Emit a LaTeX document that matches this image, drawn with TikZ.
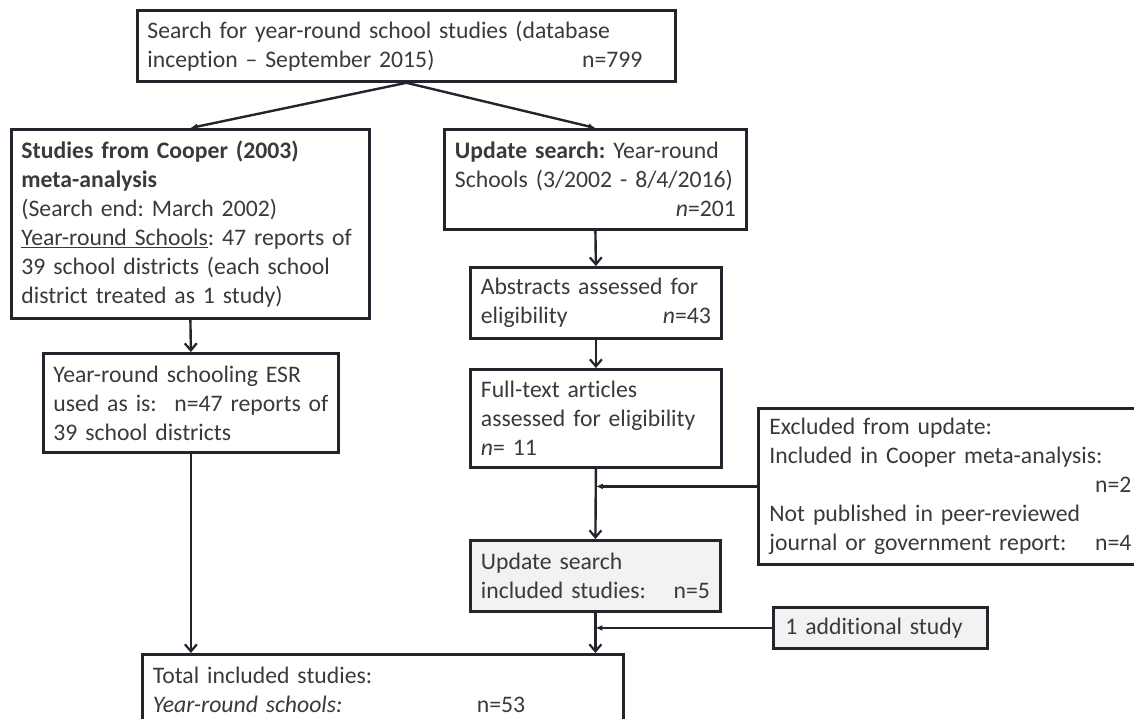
\documentclass[tikz,border=0pt]{standalone}
\usepackage{fontspec}
\setmainfont{Carlito}[Ligatures=CommonOff]
\usetikzlibrary{arrows.meta}
\definecolor{boxc}{RGB}{36,36,44}
\definecolor{txtc}{RGB}{58,58,62}
\definecolor{grayfill}{RGB}{242,242,242}
\tikzset{
  box/.style={draw=boxc, line width=2.8pt, anchor=north west, inner xsep=10pt, inner ysep=0pt,
    align=left, text=txtc, font=\fontsize{23.7}{29}\selectfont\frenchspacing},
  graybox/.style={box, fill=grayfill},
  arr/.style={draw=boxc, line width=2.4pt, -{Straight Barb[length=7pt,width=12pt,line width=2.2pt]}},
  sarr/.style={draw=boxc, line width=2.4pt, -{Latex[length=7pt,width=6pt]}}
}
\begin{document}
\begin{tikzpicture}[x=1pt,y=-1pt]
\useasboundingbox (0,0) rectangle (1134,719);
\fill[white] (0,0) rectangle (1134,719);

\node[box, text width=518pt, minimum height=71pt] (top) at (136,9)
  {Search for year-round school studies (database\\
   inception – September 2015)\hfill n=799\hspace*{23pt}};

\node[box, text width=338pt, minimum height=189pt] (cooper) at (10,128)
  {\textbf{Studies from Cooper (2003)}\\
   \textbf{meta-analysis}\\
   (Search end: March 2002)\\
   \underline{Year-round Schools}: 47 reports of\\
   39 school districts (each school\\
   district treated as 1 study)};

\node[box, text width=281pt, inner xsep=10.5pt, minimum height=100pt] (upd) at (443,128)
  {\textbf{Update search:} Year-round\\
   Schools (3/2002 - 8/4/2016)\\
   \hspace*{\fill}\textit{n}=201};

\node[box, text width=230pt, inner xsep=10.5pt, minimum height=71pt] (abs) at (469,266)
  {Abstracts assessed for\\
   eligibility\hfill\textit{n}=43};

\node[box, text width=230pt, inner xsep=10.5pt, minimum height=98pt] (full) at (469,368)
  {Full-text articles\\
   assessed for eligibility\\
   \textit{n}= 11};

\node[box, text width=275pt, minimum height=99pt] (esr) at (42,352)
  {Year-round schooling ESR\\
   used as is:\hfill n=47 reports of\\
   39 school districts};

\node[box, text width=362pt, inner xsep=11pt, minimum height=156pt] (excl) at (757,407)
  {Excluded from update:\\
   Included in Cooper meta-analysis:\\
   \hspace*{\fill}n=2\\
   Not published in peer-reviewed\\
   journal or government report:\hfill n=4};

\node[graybox, text width=229pt, inner xsep=10.5pt, minimum height=71pt] (inc) at (469,539)
  {Update search\\
   included studies:\hfill n=5};

\node[graybox, text width=190pt, inner xsep=12pt, minimum height=41pt] (add) at (772,606)
  {1 additional study};

\node[box, text width=460pt, inner xsep=10.5pt, minimum height=71pt] (total) at (141,653)
  {Total included studies:\\
   \makebox[324pt][l]{\textit{Year-round schools:}}n=53};

% connectors
\draw[sarr] (top.south) -- (cooper.north);
\draw[sarr] (top.south) -- (upd.north);
\draw[arr] (cooper.south) -- (esr.north);
\draw[arr] (upd.south) -- (abs.north);
\draw[arr] (abs.south) -- (full.north);
\draw[arr] (full.south) -- (inc.north);
\draw[sarr] (excl.west) -- (excl.west -| full.south);
\draw[sarr] (add.west) -- (add.west -| inc.south);
\draw[arr] (esr.south) -- (esr.south |- total.north);
\draw[arr] (inc.south) -- (inc.south |- total.north);
\end{tikzpicture}
\end{document}
